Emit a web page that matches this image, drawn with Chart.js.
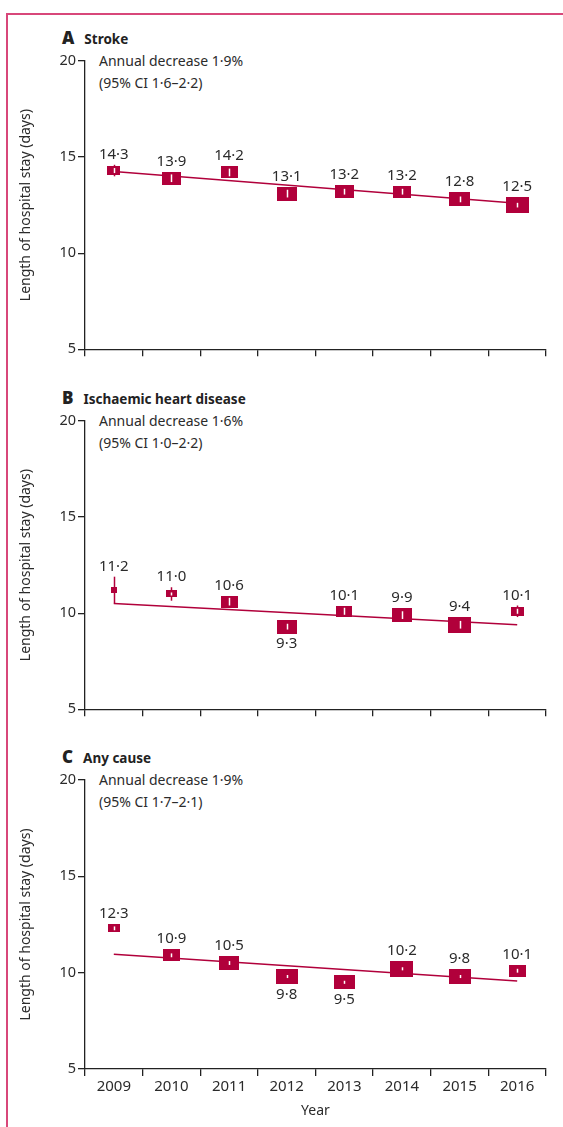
<!DOCTYPE html>
<html>
<head>
<meta charset="utf-8">
<script src="https://cdn.jsdelivr.net/npm/chart.js@4.4.1/dist/chart.umd.min.js"></script>
<style>
body { margin: 0; background: #fff; }
#wrap { position: relative; width: 563px; height: 1127px; overflow: hidden; font-family: "Noto Sans", sans-serif; color: #2b2b2b; }
#frame { position: absolute; left: 6px; top: 13px; width: 700px; height: 1300px; border-left: 2px solid #d8477a; border-top: 2px solid #d8477a; }
canvas { position: absolute; left: 0; }
.head { position: absolute; left: 62px; font-weight: bold; font-size: 13.5px; color: #222; white-space: nowrap; }
.head b { font-size: 17px; margin-right: 10px; }
.note { position: absolute; left: 99px; font-size: 14px; line-height: 22px; white-space: nowrap; }
</style>
</head>
<body>
<div id="wrap">
  <div id="frame"></div>
  <div class="head" style="top:26px"><b>A</b>Stroke</div>
  <div class="note" style="top:50px">Annual decrease 1·9%<br>(95% CI 1·6–2·2)</div>
  <div class="head" style="top:386px"><b>B</b>Ischaemic heart disease</div>
  <div class="note" style="top:410px">Annual decrease 1·6%<br>(95% CI 1·0–2·2)</div>
  <div class="head" style="top:745px"><b>C</b>Any cause</div>
  <div class="note" style="top:769px">Annual decrease 1·9%<br>(95% CI 1·7–2·1)</div>
  <canvas id="chartA" width="563" height="360" style="top:0px"></canvas>
  <canvas id="chartB" width="563" height="360" style="top:360px"></canvas>
  <canvas id="chartC" width="563" height="407" style="top:720px"></canvas>
</div>
<script>
const years = ['2009', '2010', '2011', '2012', '2013', '2014', '2015', '2016'];

// A - stroke
const strokeStay = [14.3, 13.9, 14.2, 13.1, 13.2, 13.2, 12.8, 12.5];
const strokeLow = [14.0, 13.7, 14.0, 12.9, 13.05, 13.05, 12.65, 12.38];
const strokeHigh = [14.6, 14.1, 14.4, 13.3, 13.35, 13.35, 12.95, 12.62];
const strokeWeight = [1.7, 3.6, 2.9, 4.0, 3.6, 3.2, 4.4, 5.3];
const strokeTrend = [14.25, 12.6];

// B - ischaemic heart disease
const ihdStay = [11.2, 11.0, 10.6, 9.3, 10.1, 9.9, 9.4, 10.1];
const ihdLow = [10.5, 10.65, 10.4, 9.15, 9.9, 9.7, 9.2, 9.8];
const ihdHigh = [11.9, 11.35, 10.8, 9.45, 10.3, 10.1, 9.6, 10.4];
const ihdWeight = [0.36, 1.2, 2.9, 4.0, 2.6, 4.0, 5.3, 1.7];
const ihdTrend = [10.5, 9.4];

// C - any cause
const allStay = [12.3, 10.9, 10.5, 9.8, 9.5, 10.2, 9.8, 10.1];
const allLow = [12.2, 10.8, 10.4, 9.72, 9.42, 10.12, 9.72, 10.0];
const allHigh = [12.4, 11.0, 10.6, 9.88, 9.58, 10.28, 9.88, 10.2];
const allWeight = [1.44, 2.9, 4.0, 4.8, 4.4, 5.3, 4.8, 2.9];
const allTrend = [10.95, 9.57];

const yTicks = [5, 10, 15, 20];

const crimson = '#b1003b';
const textColor = '#2b2b2b';
const axisColor = '#222';
const font = '"Noto Sans", sans-serif';

function markerSize(weight) {
    let w = 10 * Math.sqrt(weight);
    let h = Math.max(6, 0.68 * w);
    return { w: Math.round(w), h: Math.round(h) };
}

function markerImg(weight) {
    const s = markerSize(weight);
    const c = document.createElement('canvas');
    c.width = s.w;
    c.height = s.h;
    const g = c.getContext('2d');
    g.fillStyle = crimson;
    g.fillRect(0, 0, s.w, s.h);
    return c;
}

function fmt(v) {
    return v.toFixed(1).replace('.', '·');
}

// confidence interval lines and value labels
const ciPlugin = {
    id: 'ciBars',
    afterDatasetsDraw(chart, args, opts) {
        const ctx = chart.ctx;
        const yScale = chart.scales.y;
        const meta = chart.getDatasetMeta(0);
        ctx.save();
        meta.data.forEach((pt, i) => {
            const s = markerSize(opts.weight[i]);
            const top = pt.y - s.h / 2;
            const bottom = pt.y + s.h / 2;
            const yHi = yScale.getPixelForValue(opts.high[i]);
            const yLo = yScale.getPixelForValue(opts.low[i]);
            const x = Math.round(pt.x) + 0.5;
            ctx.lineWidth = 1.5;
            ctx.strokeStyle = crimson;
            ctx.beginPath();
            ctx.moveTo(x, yHi);
            ctx.lineTo(x, yLo);
            ctx.stroke();
            const a = Math.max(yHi, top + 2);
            const b = Math.min(yLo, bottom - 2);
            if (b > a && s.w > 8) {
                ctx.strokeStyle = '#fff';
                ctx.beginPath();
                ctx.moveTo(x, a);
                ctx.lineTo(x, b);
                ctx.stroke();
            }
            ctx.fillStyle = textColor;
            ctx.font = '15px ' + font;
            ctx.textAlign = 'center';
            if (opts.below.includes(i)) {
                ctx.textBaseline = 'top';
                ctx.fillText(fmt(opts.values[i]), pt.x, Math.max(bottom, yLo) + 3);
            } else {
                ctx.textBaseline = 'alphabetic';
                ctx.fillText(fmt(opts.values[i]), pt.x, Math.min(top, yHi) - 6);
            }
        });
        ctx.restore();
    }
};

function makePanel(id, values, low, high, weight, trend, below, padTop, xHeight, showYears) {
    const trendData = years.map((y, i) => i === 0 ? trend[0] : (i === years.length - 1 ? trend[1] : null));
    return new Chart(document.getElementById(id), {
        type: 'line',
        data: {
            labels: years,
            datasets: [{
                data: values,
                showLine: false,
                pointStyle: (c) => markerImg(weight[c.dataIndex]),
                pointRadius: 8,
                order: 0
            }, {
                data: trendData,
                spanGaps: true,
                borderColor: crimson,
                borderWidth: 1.5,
                pointRadius: 0,
                order: 1
            }]
        },
        options: {
            responsive: false,
            animation: false,
            events: [],
            layout: { padding: { top: padTop, right: 17, left: 0, bottom: 0 } },
            plugins: {
                legend: { display: false },
                tooltip: { enabled: false },
                ciBars: { values: values, low: low, high: high, weight: weight, below: below }
            },
            scales: {
                x: {
                    type: 'category',
                    offset: true,
                    grid: { offset: true, drawOnChartArea: false, tickLength: 7, color: axisColor, lineWidth: 1.3 },
                    border: { color: axisColor, width: 1.3 },
                    ticks: {
                        color: showYears ? textColor : 'transparent',
                        font: { family: font, size: 15 },
                        padding: 2,
                        maxRotation: 0
                    },
                    title: {
                        display: showYears,
                        text: 'Year',
                        color: textColor,
                        font: { family: font, size: 14 },
                        padding: { top: 0, bottom: 8 }
                    },
                    afterFit: (s) => { s.height = xHeight; }
                },
                y: {
                    min: 5,
                    max: 20,
                    afterBuildTicks: (s) => { s.ticks = yTicks.map(v => ({ value: v })); },
                    grid: { drawOnChartArea: false, tickLength: 7, color: axisColor, lineWidth: 1.3 },
                    border: { color: axisColor, width: 1.3 },
                    ticks: { color: textColor, font: { family: font, size: 14.5 }, padding: 2 },
                    title: {
                        display: true,
                        text: 'Length of hospital stay (days)',
                        color: textColor,
                        font: { family: font, size: 14 },
                        padding: { top: 18, bottom: 0 }
                    },
                    afterFit: (s) => { s.width = 85; }
                }
            }
        },
        plugins: [ciPlugin]
    });
}

makePanel('chartA', strokeStay, strokeLow, strokeHigh, strokeWeight, strokeTrend, [], 61, 9, false);
makePanel('chartB', ihdStay, ihdLow, ihdHigh, ihdWeight, ihdTrend, [3], 61, 10, false);
makePanel('chartC', allStay, allLow, allHigh, allWeight, allTrend, [3, 4], 60, 58, true);
</script>
</body>
</html>
